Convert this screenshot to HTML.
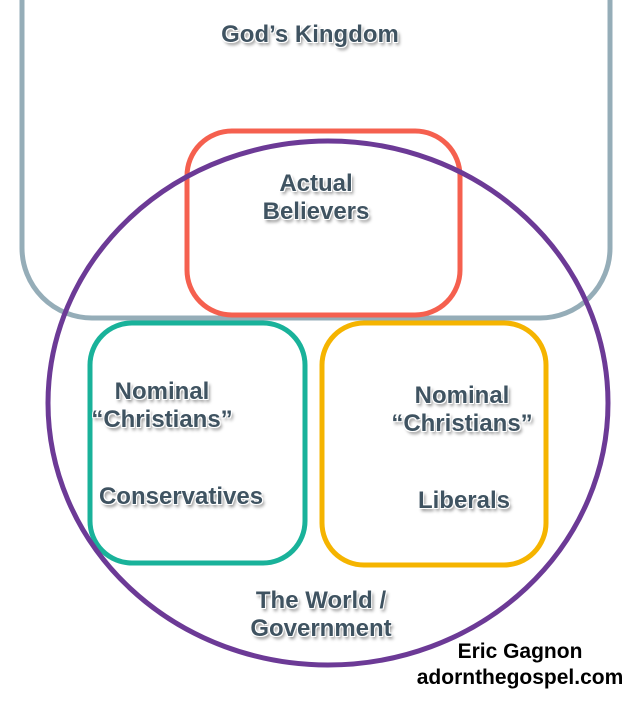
<!DOCTYPE html>
<html><head><meta charset="utf-8"><style>
html,body{margin:0;padding:0;background:#fff;}
body{width:638px;height:702px;position:relative;overflow:hidden;font-family:"Liberation Sans",Arial,sans-serif;}
.t{position:absolute;font-weight:bold;color:#3f5361;font-size:24px;line-height:28px;text-align:center;
text-shadow:-1px -1px 0 #fff,1px -1px 0 #fff,-1px 1px 0 #fff,1px 1px 0 #fff,2px 3px 3px rgba(0,0,0,.45);}
.b{position:absolute;font-weight:bold;color:#000;font-size:21px;text-align:center;}
</style></head><body>
<svg width="638" height="702" style="position:absolute;left:0;top:0">
<rect x="22" y="-80" width="588" height="398" rx="70" fill="none" stroke="#95adb8" stroke-width="5"/>
<rect x="187" y="131" width="273" height="184" rx="45" fill="none" stroke="#f5604f" stroke-width="5"/>
<rect x="90" y="323" width="215" height="240" rx="42" fill="none" stroke="#19b29a" stroke-width="5"/>
<rect x="322" y="323" width="224" height="242" rx="42" fill="none" stroke="#f5b400" stroke-width="5"/>
<ellipse cx="328" cy="403" rx="280" ry="262" fill="none" stroke="#6c3a96" stroke-width="5"/>
</svg>
<div class="t" style="left:180px;top:21px;width:260px">God’s Kingdom</div>
<div class="t" style="left:216px;top:170px;width:200px">Actual<br>Believers</div>
<div class="t" style="left:62px;top:378px;width:200px">Nominal<br>“Christians”</div>
<div class="t" style="left:81px;top:483px;width:200px">Conservatives</div>
<div class="t" style="left:362px;top:382px;width:200px">Nominal<br>“Christians”</div>
<div class="t" style="left:364px;top:487px;width:200px">Liberals</div>
<div class="t" style="left:221px;top:587px;width:200px">The World /<br>Government</div>
<div class="b" style="left:400px;top:640px;width:240px">Eric Gagnon</div>
<div class="b" style="left:400px;top:666px;width:240px">adornthegospel.com</div>
</body></html>
